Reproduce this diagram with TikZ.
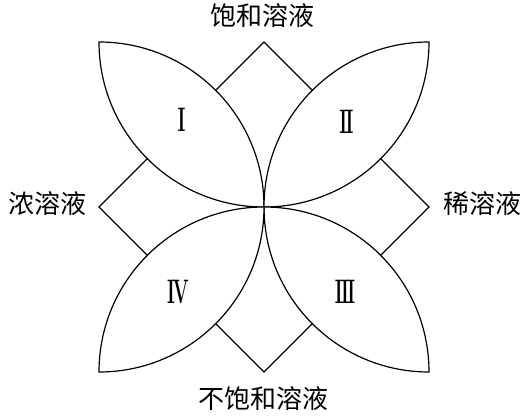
\documentclass[tikz,border=0pt]{standalone}
\usepackage{fontspec}
\newfontfamily\cjk{Noto Sans CJK SC}
\begin{document}
\begin{tikzpicture}[x=1pt,y=1pt,
  line/.style={line width=1.2pt,black,line join=miter},
  leaf/.style={line,fill=white},
  lab/.style={font=\cjk\fontsize{26}{26}\selectfont,inner sep=0pt},
  num/.style={font=\bfseries\fontsize{34}{34}\selectfont,inner sep=0pt}]
\useasboundingbox (0,0) rectangle (526,415);
\def\R{165}
\def\h{82.5}
\coordinate (C) at (264,208);
% diamonds
\draw[line] (C) -- ++(-\h,\h) -- ++(\h,\h) -- ++(\h,-\h) -- cycle;
\draw[line] (C) -- ++(-\h,-\h) -- ++(\h,-\h) -- ++(\h,\h) -- cycle;
\draw[line] (C) -- ++(-\h,\h) -- ++(-\h,-\h) -- ++(\h,-\h) -- cycle;
\draw[line] (C) -- ++(\h,\h) -- ++(\h,-\h) -- ++(-\h,-\h) -- cycle;
% leaves
\draw[leaf] (C) arc[start angle=0,end angle=90,radius=\R] arc[start angle=180,end angle=270,radius=\R] -- cycle;
\draw[leaf] (C) arc[start angle=180,end angle=90,radius=\R] arc[start angle=0,end angle=-90,radius=\R] -- cycle;
\draw[leaf] (C) arc[start angle=180,end angle=270,radius=\R] arc[start angle=0,end angle=90,radius=\R] -- cycle;
\draw[leaf] (C) arc[start angle=0,end angle=-90,radius=\R] arc[start angle=180,end angle=90,radius=\R] -- cycle;
% numerals
\node[num] (n1) at (181.5,295) {\scalebox{0.55}[1]{I}};
\node[num] (n2) at (346.5,293) {\scalebox{0.55}[1]{I\kern-3pt I}};
\node[num] (n3) at (345,123) {\scalebox{0.55}[1]{I\kern-3pt I\kern-3pt I}};
\node[num] (n4) at (178,123) {\scalebox{0.55}[1]{I\kern-4pt V}};
% labels
\node[lab] (top) at (262,399.5) {饱和溶液};
\node[lab] (left) at (47.5,211.5) {浓溶液};
\node[lab] (right) at (482,211.5) {稀溶液};
\node[lab] (bottom) at (263.5,16) {不饱和溶液};
\end{tikzpicture}
\end{document}
